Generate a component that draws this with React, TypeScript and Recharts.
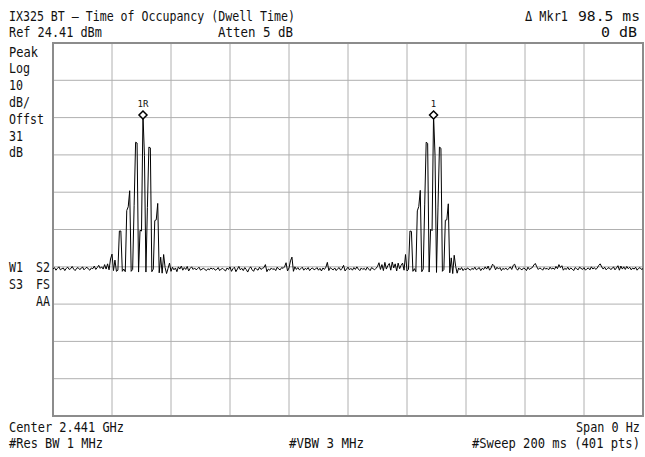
import React from "react";
import {
  LineChart,
  Line,
  XAxis,
  YAxis,
  CartesianGrid,
  ReferenceArea,
  ReferenceDot,
} from "recharts";

// zero span sweep, 401 points over 200 ms (0.5 ms per point), values in dBm
const sweepMs = 200;
const stepMs = 0.5;
const refLevel = 24.41;
const bottomLevel = -75.59;

const xTicks = [0, 20, 40, 60, 80, 100, 120, 140, 160, 180, 200];
const yTicks = [24.41, 14.41, 4.41, -5.59, -15.59, -25.59, -35.59, -45.59, -55.59, -65.59, -75.59];

// points 0..34
const noiseA = [
  -36.2, -35.8, -36.5, -36.0, -35.6, -36.4, -36.1, -35.9, -36.6, -36.0,
  -35.7, -36.3, -36.1, -35.5, -36.2, -36.6, -36.0, -35.8, -36.3, -36.1,
  -35.6, -36.4, -36.0, -35.7, -36.2, -36.5, -35.9, -36.1, -35.4, -36.3,
  -35.8, -35.2, -36.0, -35.6, -36.2,
];

// points 35..78 (first burst)
const burst1 = [
  -35.0, -36.2, -34.8, -36.4, -33.5, -32.2, -36.6, -33.8, -36.8, -36.5,
  -26.0, -26.0, -36.8, -36.2, -36.9,
  -20.5, -19.5, -15.2, -36.8, -36.3,
  -19.1, -2.2, -2.4, -37.0,
  -25.8, -26.0, 5.1, -5.7, -37.0,
  -19.7, -3.5, -3.7, -36.9, -36.2,
  -23.2, -23.0, -18.6, -37.2,
  -33.0, -37.3, -32.3, -35.8, -37.4, -36.0,
];

// points 79..235
const noiseB = [
  -34.6, -36.8, -35.7, -36.4, -35.9, -36.9, -35.6, -36.2, -35.4, -36.5,
  -35.8, -36.3, -35.5, -36.7, -36.0, -35.6, -36.3, -35.9, -36.4, -36.1,
  -35.7, -36.5, -36.2, -36.0, -36.3, -36.6, -36.1, -36.4, -35.9, -36.2,
  -36.0, -36.5, -36.3, -35.8, -36.6, -36.2, -36.0, -36.4, -36.7, -35.9,
  -36.3, -35.6, -36.8, -36.1, -35.7, -36.9, -36.2, -35.5, -36.4, -36.0,
  -36.6, -35.8, -36.3, -37.0, -36.1, -35.6, -36.4, -36.8, -35.9, -36.2,
  -36.5, -35.7, -36.3, -36.0, -35.8, -35.0, -36.9, -36.2, -36.5, -35.9,
  -36.3, -36.1, -36.6, -35.7, -36.2, -36.4, -35.8, -36.0, -35.6, -34.5,
  -36.7, -35.9, -34.0, -33.0, -36.8, -35.6, -36.3, -35.8, -36.4, -36.1,
  -35.7, -36.5, -36.0, -36.3, -35.8, -36.6, -36.1, -35.9, -36.4, -36.2,
  -35.8, -36.5, -36.0, -36.7, -35.9, -36.3, -35.7, -34.4, -36.6, -35.8,
  -36.2, -36.4, -35.9, -36.6, -36.1, -35.8, -36.5, -36.0, -35.2, -36.7,
  -36.2, -35.7, -36.4, -36.0, -36.5, -35.8, -36.3, -35.6, -36.2, -36.6,
  -35.9, -36.3, -36.0, -36.5, -35.7, -36.2, -36.6, -35.8, -36.1, -36.4,
  -36.0, -35.5, -34.5, -36.3, -35.0, -36.6, -34.4, -36.2, -35.3, -34.7,
  -36.5, -34.3, -35.9, -34.8, -36.7, -34.6, -36.1,
];

// points 236..276 (second burst)
const burst2 = [
  -35.2, -34.6, -36.5, -32.3, -36.7, -36.3,
  -26.0, -26.1, -36.8, -36.1, -36.9,
  -20.6, -19.4, -15.1, -36.9, -36.2,
  -19.0, -2.2, -2.5, -37.0,
  -25.5, -25.9, 5.1, -5.7, -37.1,
  -19.8, -3.5, -3.8, -36.8, -36.3,
  -23.1, -23.0, -18.7, -37.2,
  -33.2, -37.4, -32.5, -35.5, -37.3, -35.9, -36.4,
];

// points 277..400
const noiseC = [
  -35.8, -36.6, -36.1, -36.4, -35.9, -36.2, -36.5, -36.0, -36.3, -35.7,
  -36.4, -36.1, -35.8, -36.6, -36.0, -36.3, -35.6, -36.2, -35.4, -36.5,
  -35.9, -34.9, -35.3, -36.4, -35.7, -36.2, -35.8, -36.6, -36.0, -36.3,
  -35.9, -36.4, -36.1, -35.6, -36.3, -35.2, -34.9, -36.0, -36.5, -35.8,
  -36.2, -36.4, -35.9, -36.1, -36.6, -35.7, -36.3, -36.0, -35.8, -35.1,
  -34.7, -35.6, -36.3, -35.9, -36.1, -36.5, -35.8, -36.2, -36.0, -36.4,
  -35.7, -36.2, -35.9, -36.3, -35.5, -36.1, -35.0, -35.8, -35.3, -36.5,
  -36.0, -36.3, -35.7, -36.4, -35.9, -36.2, -36.6, -35.8, -36.1, -36.4,
  -35.7, -36.0, -36.3, -35.8, -36.5, -36.1, -35.9, -36.4, -35.6, -36.2,
  -35.8, -36.3, -35.9, -35.2, -34.8, -35.6, -36.2, -35.7, -36.4, -36.0,
  -35.8, -36.3, -36.1, -35.6, -36.4, -35.9, -35.3, -36.5, -35.4, -36.2,
  -35.6, -36.3, -35.5, -36.1, -35.7, -36.4, -35.9, -36.2, -35.7, -36.5,
  -36.0, -35.8, -36.3, -36.1,
];

const markers = [
  { index: 61, label: "1R" },
  { index: 258, label: "1" },
];

const trace = [...noiseA, ...burst1, ...noiseB, ...burst2, ...noiseC];
const data = trace.map((v, i) => ({ t: i * stepMs, v }));

const FONT = "'DejaVu Sans Mono', 'Liberation Mono', monospace";
const FONT_SIZE = 14;

// narrow the monospace glyphs to the analyzer's width (w px for the whole string)
function Label({ x, y, w, text }: { x: number; y: number; w: number; text: string }) {
  const natural = text.length * 0.602 * FONT_SIZE;
  const sx = w / natural;
  return (
    <text
      transform={`translate(${x},${y}) scale(${sx.toFixed(3)},1)`}
      fontFamily={FONT}
      fontSize={FONT_SIZE}
      fill="#111"
    >
      {text}
    </text>
  );
}

function MarkerShape(props: any) {
  const { cx, cy, label } = props;
  const s = 4;
  return (
    <g>
      <polygon
        points={`${cx},${cy - s} ${cx + s},${cy} ${cx},${cy + s} ${cx - s},${cy}`}
        fill="#fff"
        stroke="#000"
        strokeWidth={1.5}
      />
      <text x={cx} y={cy - 8} textAnchor="middle" fontFamily={FONT} fontSize={9} fill="#111">
        {label}
      </text>
    </g>
  );
}

export default function App() {
  return (
    <div style={{ position: "absolute", left: 0, top: 0, width: 645, height: 457, background: "#fff" }}>
      <LineChart
        width={645}
        height={457}
        data={data}
        margin={{ top: 43, right: 2, left: 53, bottom: 41 }}
      >
        <CartesianGrid
          stroke="#b0b0b0"
          strokeWidth={1}
          verticalCoordinatesGenerator={({ offset }: any) =>
            xTicks.map((t) => offset.left + (t / sweepMs) * offset.width)
          }
          horizontalCoordinatesGenerator={({ offset }: any) =>
            yTicks.map((v) => offset.top + ((refLevel - v) / (refLevel - bottomLevel)) * offset.height)
          }
        />
        <XAxis
          dataKey="t"
          type="number"
          domain={[0, sweepMs]}
          ticks={xTicks}
          tick={false}
          tickLine={false}
          axisLine={false}
          height={0}
        />
        <YAxis
          type="number"
          domain={[bottomLevel, refLevel]}
          ticks={yTicks}
          tick={false}
          tickLine={false}
          axisLine={false}
          width={0}
          allowDataOverflow
        />
        <ReferenceArea
          x1={0}
          x2={sweepMs}
          y1={bottomLevel}
          y2={refLevel}
          fill="none"
          stroke="#8c8c8c"
          strokeWidth={2}
          fillOpacity={0}
        />
        <Line
          type="linear"
          dataKey="v"
          stroke="#000"
          strokeWidth={1}
          dot={false}
          isAnimationActive={false}
        />
        {markers.map((m) => (
          <ReferenceDot
            key={m.label}
            x={data[m.index].t}
            y={data[m.index].v}
            shape={(p: any) => <MarkerShape {...p} label={m.label} />}
          />
        ))}
      </LineChart>
      <svg
        width={645}
        height={457}
        style={{ position: "absolute", left: 0, top: 0, pointerEvents: "none" }}
      >
        <Label x={9} y={21} w={286} text="IX325 BT – Time of Occupancy (Dwell Time)" />
        <Label x={9} y={37} w={93} text="Ref 24.41 dBm" />
        <Label x={218} y={37} w={75} text="Atten 5 dB" />
        <Label x={525} y={21} w={43} text="Δ Mkr1" />
        <Label x={578} y={21} w={62} text="98.5 ms" />
        <Label x={601} y={37} w={36} text="0 dB" />

        <Label x={9} y={57} w={29} text="Peak" />
        <Label x={9} y={73} w={21} text="Log" />
        <Label x={9} y={90} w={14} text="10" />
        <Label x={9} y={107} w={21} text="dB/" />
        <Label x={9} y={124} w={35} text="Offst" />
        <Label x={9} y={141} w={14} text="31" />
        <Label x={9} y={157} w={14} text="dB" />

        <Label x={9} y={272} w={14} text="W1" />
        <Label x={36} y={272} w={14} text="S2" />
        <Label x={9} y={289} w={14} text="S3" />
        <Label x={36} y={289} w={14} text="FS" />
        <Label x={36} y={306} w={14} text="AA" />

        <Label x={9} y={432} w={115} text="Center 2.441 GHz" />
        <Label x={576} y={432} w={64} text="Span 0 Hz" />
        <Label x={9} y={448} w={94} text="#Res BW 1 MHz" />
        <Label x={289} y={448} w={75} text="#VBW 3 MHz" />
        <Label x={472} y={448} w={168} text="#Sweep 200 ms (401 pts)" />
      </svg>
    </div>
  );
}
